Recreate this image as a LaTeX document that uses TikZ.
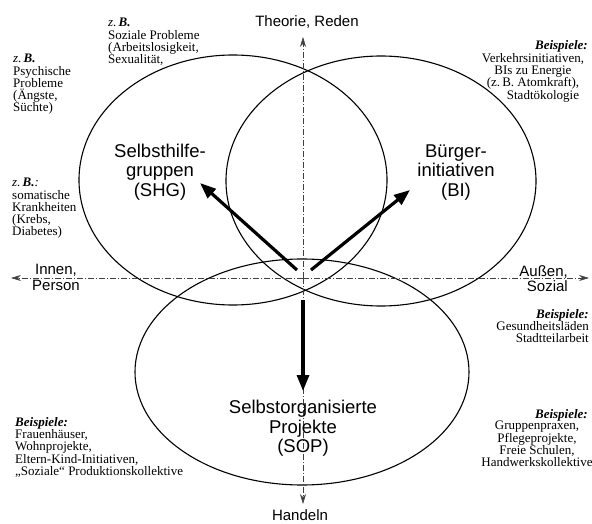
\documentclass[tikz,border=0pt]{standalone}
\usepackage{fontspec}
\setmainfont{Liberation Serif}
\setsansfont{Liberation Sans}
\usetikzlibrary{arrows.meta}
\begin{document}
\begin{tikzpicture}[x=1pt,y=-1pt,
  ring/.style={line width=1.1pt},
  axis/.style={draw=black!75,line width=0.6pt,dash pattern=on 6pt off 2pt on 1pt off 2pt,
    -{Stealth[length=10pt,width=6pt]}},
  push/.style={line width=3.2pt,-{Triangle[length=16pt,width=12pt]}},
  big/.style={font=\sffamily\fontsize{18.5}{19.5}\selectfont,align=center,inner sep=0pt},
  axlabel/.style={font=\sffamily\fontsize{15}{15.5}\selectfont,inner sep=0pt},
  note/.style={font=\fontsize{13}{12.3}\selectfont,inner sep=0pt},
]
\useasboundingbox (0,0) rectangle (592,524);

% the three fields
\draw[ring] (233,180) ellipse [x radius=154pt, y radius=125pt];
\draw[ring] (381,181) ellipse [x radius=155pt, y radius=125pt];
\draw[ring] (302,372) ellipse [x radius=167pt, y radius=113pt];

% axes
\coordinate (O) at (303,278);
\coordinate (axN) at (303,37);
\coordinate (axS) at (303,504);
\coordinate (axW) at (11,278);
\coordinate (axE) at (589,278);
\draw[axis] (O) -- (axN);
\draw[axis] (O) -- (axS);
\draw[axis] (O) -- (axW);
\draw[axis] (O) -- (axE);

\node[axlabel,anchor=base] (theo) at (307,27) {Theorie, Reden};
\node[axlabel,anchor=base] (hand) at (300,520.5) {Handeln};
\node[axlabel,anchor=north,align=center] (innen) at (56,264) {Innen,\\Person};
\node[axlabel,anchor=north east,align=right] (aussen) at (568,265) {Außen,\\Sozial};

% field labels
\node[big,anchor=north] (shg) at (160,143.5) {Selbsthilfe-\\gruppen\\(SHG)};
\node[big,anchor=north] (bi) at (456,144.5) {Bürger-\\initiativen\\(BI)};
\node[big,anchor=north] (sop) at (303,400) {Selbstorganisierte\\Projekte\\(SOP)};

% directions
\coordinate (shgTail) at (297,270);
\coordinate (shgTip) at (200,183);
\coordinate (biTail) at (311,270);
\coordinate (biTip) at (410,190);
\coordinate (sopTail) at (303,300);
\coordinate (sopTip) at (303,391);
\draw[push] (shgTail) -- (shgTip);
\draw[push] (biTail) -- (biTip);
\draw[push] (sopTail) -- (sopTip);

% examples
\node[note,anchor=north west,align=left] (exA) at (13,54)
  {\textit{z.\,\textbf{B.}}\\Psychische\\Probleme\\(Ängste,\\Süchte)};
\node[note,anchor=north west,align=left] (exB) at (108,18)
  {\textit{z.\,\textbf{B.}}\\Soziale Probleme\\(Arbeitslosigkeit,\\Sexualität,};
\node[note,anchor=north west,align=left] (exC) at (12,178)
  {\textit{z.\,\textbf{B.}:}\\somatische\\Krankheiten\\(Krebs,\\Diabetes)};

\node[note,anchor=north east] (bspD) at (588,40) {\textbf{\textit{Beispiele:}}};
\node[note,anchor=north,align=center] (exD) at (533,53)
  {Verkehrsinitiativen,\\BIs zu Energie\\(z.\,B. Atomkraft),\\\hspace*{20pt}Stadtökologie};

\node[note,anchor=north east,align=right] (exE) at (589,309)
  {\textbf{\textit{Beispiele:}}\\Gesundheitsläden\\Stadtteilarbeit};

\node[note,anchor=north west,align=left] (exF) at (15,417)
  {\textbf{\textit{Beispiele:}}\\Frauenhäuser,\\Wohnprojekte,\\Eltern-Kind-Initiativen,\\„Soziale“ Produktionskollektive};

\node[note,anchor=north east] (bspG) at (588,409) {\textbf{\textit{Beispiele:}}};
\node[note,anchor=north,align=center] (exG) at (537,421)
  {Gruppenpraxen,\\Pflegeprojekte,\\Freie Schulen,\\Handwerkskollektive};
\end{tikzpicture}
\end{document}
